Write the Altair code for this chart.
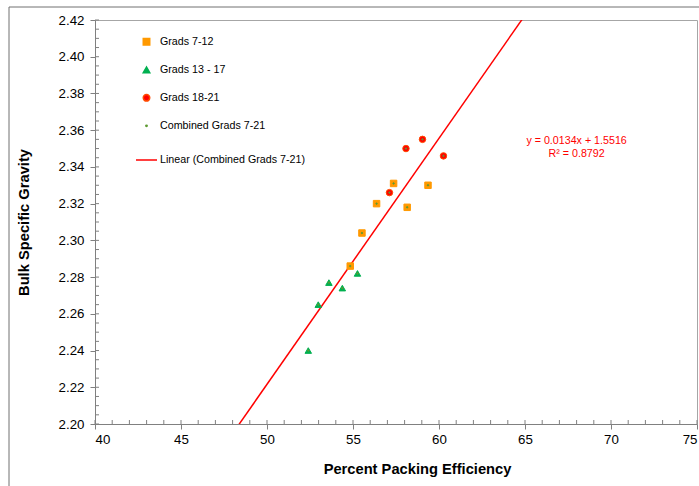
import altair as alt
import pandas as pd

# Percent packing efficiency (x) and bulk specific gravity (y) per gradation group
g712_x = [54.84, 55.52, 56.37, 57.36, 58.15, 59.36]
g712_y = [2.286, 2.304, 2.320, 2.331, 2.318, 2.330]

g1317_x = [52.40, 52.98, 53.60, 54.38, 55.26]
g1317_y = [2.240, 2.265, 2.277, 2.274, 2.282]

g1821_x = [57.12, 58.08, 59.04, 60.26]
g1821_y = [2.326, 2.350, 2.355, 2.346]

# Linear trend of the combined set
slope = 0.0134
intercept = 1.5516
r_squared = 0.8792

series_names = [
    "Grads 7-12",
    "Grads 13 - 17",
    "Grads 18-21",
    "Combined Grads 7-21",
    "Linear (Combined Grads 7-21)",
]
series_fills = ["#FF9900", "#00B050", "#FF0000", "#5E9A32", "#FF0000"]
series_strokes = ["#FF9900", "#00B050", "#FF4A00", "#5E9A32", "#FF0000"]
series_shapes = ["square", "triangle-up", "circle", "circle", "stroke"]
series_sizes = [42, 42, 42, 2, 441]

x_major = [40, 45, 50, 55, 60, 65, 70, 75]
y_major = [2.20, 2.22, 2.24, 2.26, 2.28, 2.30, 2.32, 2.34, 2.36, 2.38, 2.40, 2.42]
x_minor = list(range(40, 76))
y_minor = [round(2.20 + 0.005 * i, 3) for i in range(45)]

FONT = "Liberation Sans"
W, H = 602, 404
AXIS_GRAY = "#808080"

rows = []
for name, xs, ys in [
    ("Grads 7-12", g712_x, g712_y),
    ("Grads 13 - 17", g1317_x, g1317_y),
    ("Grads 18-21", g1821_x, g1821_y),
]:
    rows += [{"ppe": a, "bsg": b, "series": name} for a, b in zip(xs, ys)]
# combined series drawn last, as small dots on top of every point
rows += [{"ppe": r["ppe"], "bsg": r["bsg"], "series": "Combined Grads 7-21"} for r in list(rows)]
pts = pd.DataFrame(rows)

x_scale = alt.Scale(domain=[40, 75], nice=False, zero=False)
y_scale = alt.Scale(domain=[2.20, 2.42], nice=False, zero=False)

legend = alt.Legend(
    title=None,
    orient="none",
    legendX=40,
    legendY=16.5,
    labelFont=FONT,
    labelFontSize=10.7,
    labelColor="#000000",
    labelOffset=2,
    rowPadding=10,
    gridAlign="all",
    symbolStrokeWidth=1.5,
    labelLimit=400,
)

axis_x = alt.Axis(
    values=x_major,
    format="d",
    tickSize=5,
    tickColor=AXIS_GRAY,
    domainColor=AXIS_GRAY,
    labelFont=FONT,
    labelFontSize=13.3,
    labelColor="#000000",
    labelPadding=3,
    labelOverlap=False,
    title="Percent Packing Efficiency",
    titleFont=FONT,
    titleFontSize=14.7,
    titleFontWeight="bold",
    titleColor="#000000",
    titleX=322,
    titleY=45,
    titleAlign="center",
    titleBaseline="middle",
    grid=False,
)
axis_y = alt.Axis(
    values=y_major,
    format=".2f",
    tickSize=5,
    tickColor=AXIS_GRAY,
    domainColor=AXIS_GRAY,
    labelFont=FONT,
    labelFontSize=13.3,
    labelColor="#000000",
    labelPadding=6,
    labelOverlap=False,
    title="Bulk Specific Gravity",
    titleFont=FONT,
    titleFontSize=14.7,
    titleFontWeight="bold",
    titleColor="#000000",
    titleAngle=270,
    titleX=-71,
    titleY=202,
    titleAlign="center",
    titleBaseline="middle",
    grid=False,
)

# minor tick marks pointing into the plot
minor_x = alt.Chart(pd.DataFrame({"ppe": x_minor})).mark_rule(color=AXIS_GRAY, strokeWidth=1).encode(
    x=alt.X("ppe:Q", scale=x_scale, axis=axis_x), y=alt.value(H), y2=alt.value(H - 4)
)
minor_y = alt.Chart(pd.DataFrame({"bsg": y_minor})).mark_rule(color=AXIS_GRAY, strokeWidth=1).encode(
    y=alt.Y("bsg:Q", scale=y_scale, axis=axis_y), x=alt.value(0), x2=alt.value(4)
)

points = alt.Chart(pts).mark_point(filled=True, strokeWidth=1, opacity=1).encode(
    x=alt.X("ppe:Q", scale=x_scale, axis=axis_x),
    y=alt.Y("bsg:Q", scale=y_scale, axis=axis_y),
    color=alt.Color("series:N", scale=alt.Scale(domain=series_names, range=series_fills), legend=legend),
    stroke=alt.Stroke("series:N", scale=alt.Scale(domain=series_names, range=series_strokes), legend=legend),
    shape=alt.Shape("series:N", scale=alt.Scale(domain=series_names, range=series_shapes), legend=legend),
    size=alt.Size(
        "series:N",
        scale=alt.Scale(type="ordinal", domain=series_names, range=series_sizes),
        legend=legend,
    ),
)

fit = pd.DataFrame({"ppe": [40.0, 75.0]})
trend = (
    alt.Chart(fit)
    .transform_calculate(bsg=f"{slope} * datum.ppe + {intercept}")
    .mark_line(color="#FF0000", strokeWidth=1.5, clip=True)
    .encode(
        x=alt.X("ppe:Q", scale=x_scale, axis=axis_x),
        y=alt.Y("bsg:Q", scale=y_scale, axis=axis_y),
    )
)

eq = pd.DataFrame({
    "ppe": [68.0, 68.0],
    "bsg": [2.3541, 2.3473],
    "txt": [f"y = {slope}x + {intercept}", f"R\u00b2 = {r_squared}"],
})
equation = alt.Chart(eq).mark_text(
    font=FONT, fontSize=10.7, color="#FF0000", align="center", baseline="middle"
).encode(
    x=alt.X("ppe:Q", scale=x_scale, axis=axis_x),
    y=alt.Y("bsg:Q", scale=y_scale, axis=axis_y),
    text="txt:N",
)

# outer chart-area frame (left and top edges)
frame_left = alt.Chart(pd.DataFrame({"k": [0]})).mark_rule(color="#707070", strokeWidth=1).encode(
    x=alt.value(-86), y=alt.value(-13), y2=alt.value(470)
)
frame_top = alt.Chart(pd.DataFrame({"k": [0]})).mark_rule(color="#707070", strokeWidth=1).encode(
    x=alt.value(-86), x2=alt.value(620), y=alt.value(-13)
)

chart = (
    alt.layer(frame_left, frame_top, minor_x, minor_y, trend, points, equation)
    .properties(
        width=W,
        height=H,
        autosize=alt.AutoSizeParams(type="none"),
        padding={"left": 95, "top": 20, "right": 2, "bottom": 62},
        background="white",
    )
    .configure_view(stroke="#A6A6A6", strokeWidth=1)
)

chart.save("out.html", embed_options={"renderer": "svg", "actions": False})
